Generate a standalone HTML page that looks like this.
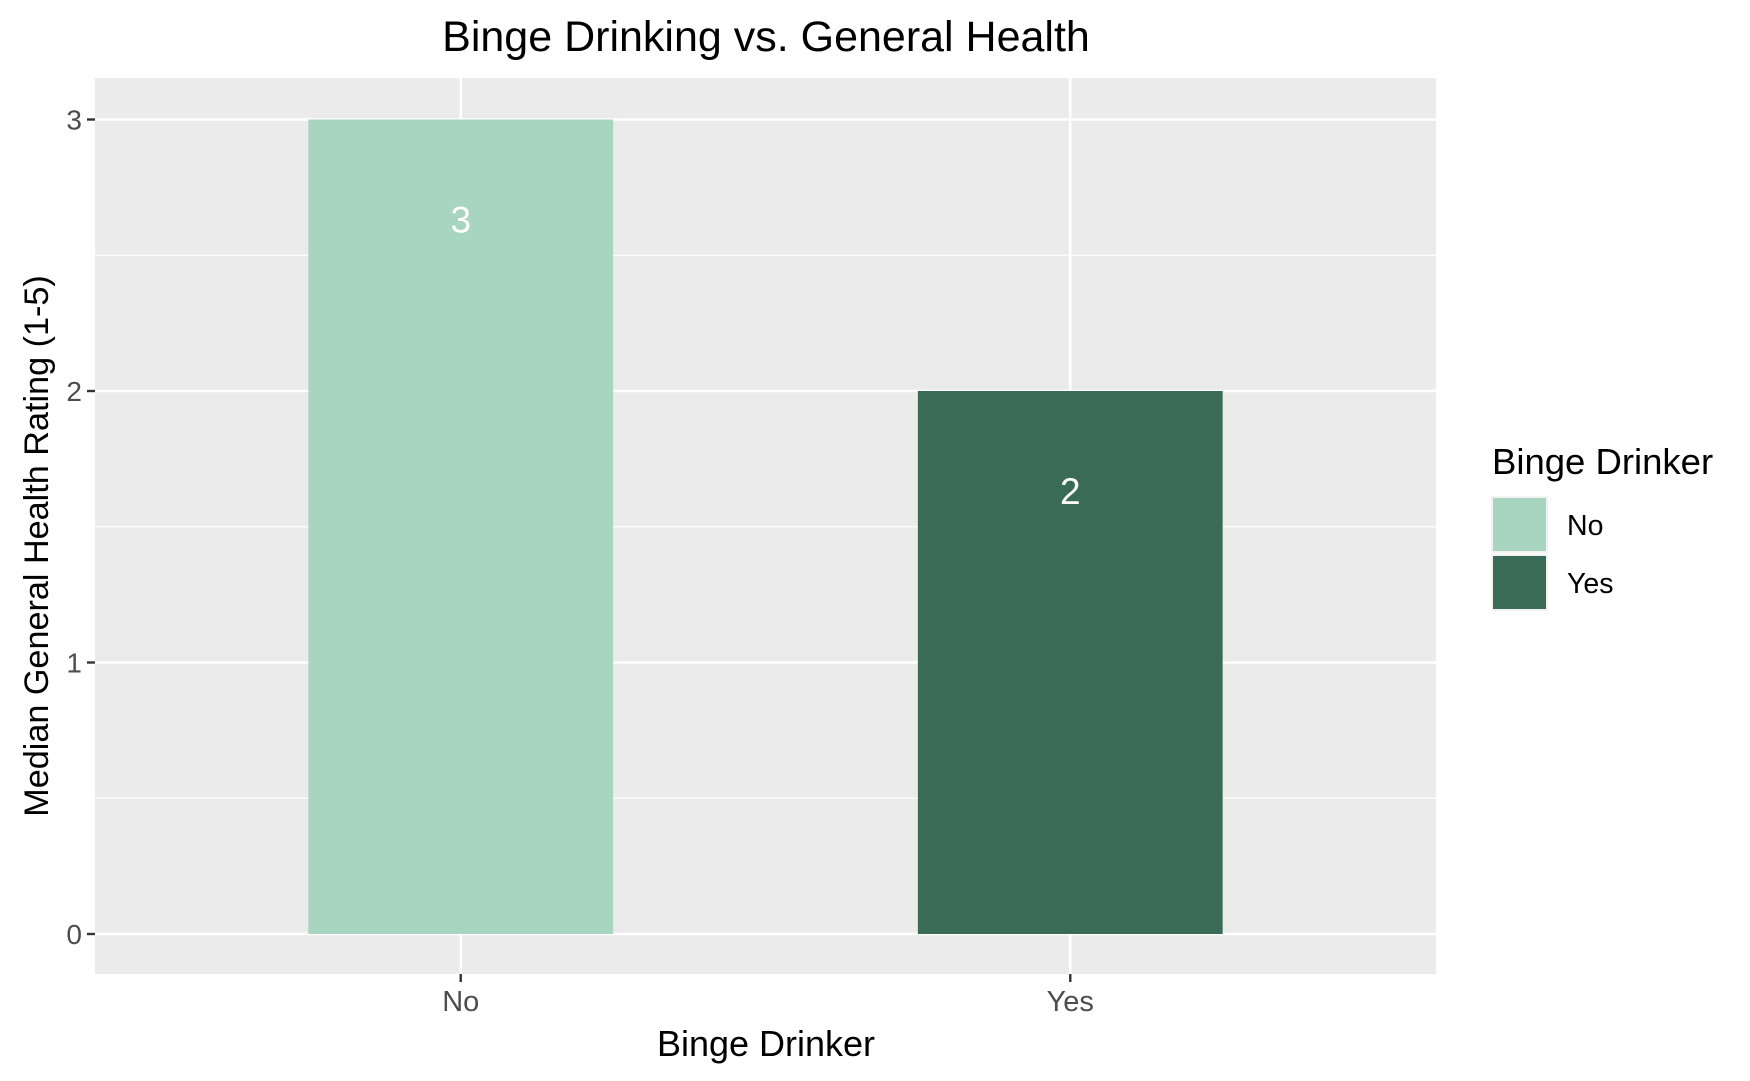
<!DOCTYPE html>
<html><head><meta charset="utf-8"><style>
html,body{margin:0;padding:0;background:#fff}
svg{display:block;font-family:"Liberation Sans",Arial,sans-serif}
</style></head><body>
<svg id="chart" width="1750" height="1081" viewBox="0 0 1750 1081">
<text x="766" y="51" text-anchor="middle" font-size="43" fill="#000">Binge Drinking vs. General Health</text>
<rect x="95" y="78" width="1341" height="896" fill="#ebebeb"/>
<g id="grid"></g>
<g id="bars"></g>
<g id="axes"></g>
<text x="766" y="1056" text-anchor="middle" font-size="36" fill="#000">Binge Drinker</text>
<text transform="translate(48,546) rotate(-90)" text-anchor="middle" font-size="34.2" fill="#000">Median General Health Rating (1-5)</text>
<g>
<text x="1492" y="474" font-size="36.5" fill="#000">Binge Drinker</text>
<g id="legend-items"></g>
</g>
</svg>
<script>
const categories = ["No", "Yes"];
const values = [3, 2];
const labels = ["3", "2"];
const yTicks = [0, 1, 2, 3];
const yMinor = [0.5, 1.5, 2.5];
const colors = ["#a8d5c0", "#3a6b56"];

const NS = "http://www.w3.org/2000/svg";
const pL = 95, pR = 1436, pT = 78, pB = 974;
function xScale(i) { return pL + (i + 1 - 0.4) / 2.2 * (pR - pL); }
function yScale(v) { return 934 - v * (934 - 119.5) / 3; }
const bandW = 0.5 / 2.2 * (pR - pL);
function mk(tag, attrs, parent) {
  const e = document.createElementNS(NS, tag);
  for (const k in attrs) e.setAttribute(k, attrs[k]);
  parent.appendChild(e);
  return e;
}
const grid = document.getElementById('grid');
const bars = document.getElementById('bars');
const axes = document.getElementById('axes');
const leg = document.getElementById('legend-items');

yMinor.forEach(v => {
  const l = mk('line', {x1: pL, x2: pR, y1: yScale(v), y2: yScale(v), stroke: '#fff', 'stroke-width': 1.2}, grid);
  
  
});
yTicks.forEach(v => {
  const y = yScale(v);
  const l = mk('line', {x1: pL, x2: pR, y1: y, y2: y, stroke: '#fff', 'stroke-width': 2.4}, grid);
  
  
  const t = mk('line', {x1: pL - 8, x2: pL, y1: y, y2: y, stroke: '#333', 'stroke-width': 2.4}, axes);
  
  
  const tx = mk('text', {x: pL - 13, y: y + 10, 'text-anchor': 'end', 'font-size': 28, fill: '#4d4d4d'}, axes);
  tx.textContent = v;
  
  
});
categories.forEach((c, i) => {
  const x = xScale(i);
  const g = mk('line', {x1: x, x2: x, y1: pT, y2: pB, stroke: '#fff', 'stroke-width': 2.4}, grid);
  
  
  const y0 = yScale(0), y1 = yScale(values[i]);
  const r = mk('rect', {x: x - bandW / 2, y: y1, width: bandW, height: y0 - y1, fill: colors[i]}, bars);
  
  
  const bl = mk('text', {x: x, y: y1 + 113, 'text-anchor': 'middle', 'font-size': 37, fill: '#fff'}, bars);
  bl.textContent = labels[i];
  
  
  const t = mk('line', {x1: x, x2: x, y1: pB, y2: pB + 8, stroke: '#333', 'stroke-width': 2.4}, axes);
  
  
  const tx = mk('text', {x: x, y: 1011, 'text-anchor': 'middle', 'font-size': 29, fill: '#4d4d4d'}, axes);
  tx.textContent = c;
  
  
  const ky = 496 + i * 58;
  const kb = mk('rect', {x: 1491, y: ky, width: 57, height: 57, fill: '#f2f2f2'}, leg);
  
  
  const k = mk('rect', {x: 1493, y: ky + 2, width: 53, height: 53, fill: colors[i]}, leg);
  
  
  const lt = mk('text', {x: 1567, y: ky + 39, 'font-size': 28.5, fill: '#000'}, leg);
  lt.textContent = c;
  
  
});
</script>
</body></html>
